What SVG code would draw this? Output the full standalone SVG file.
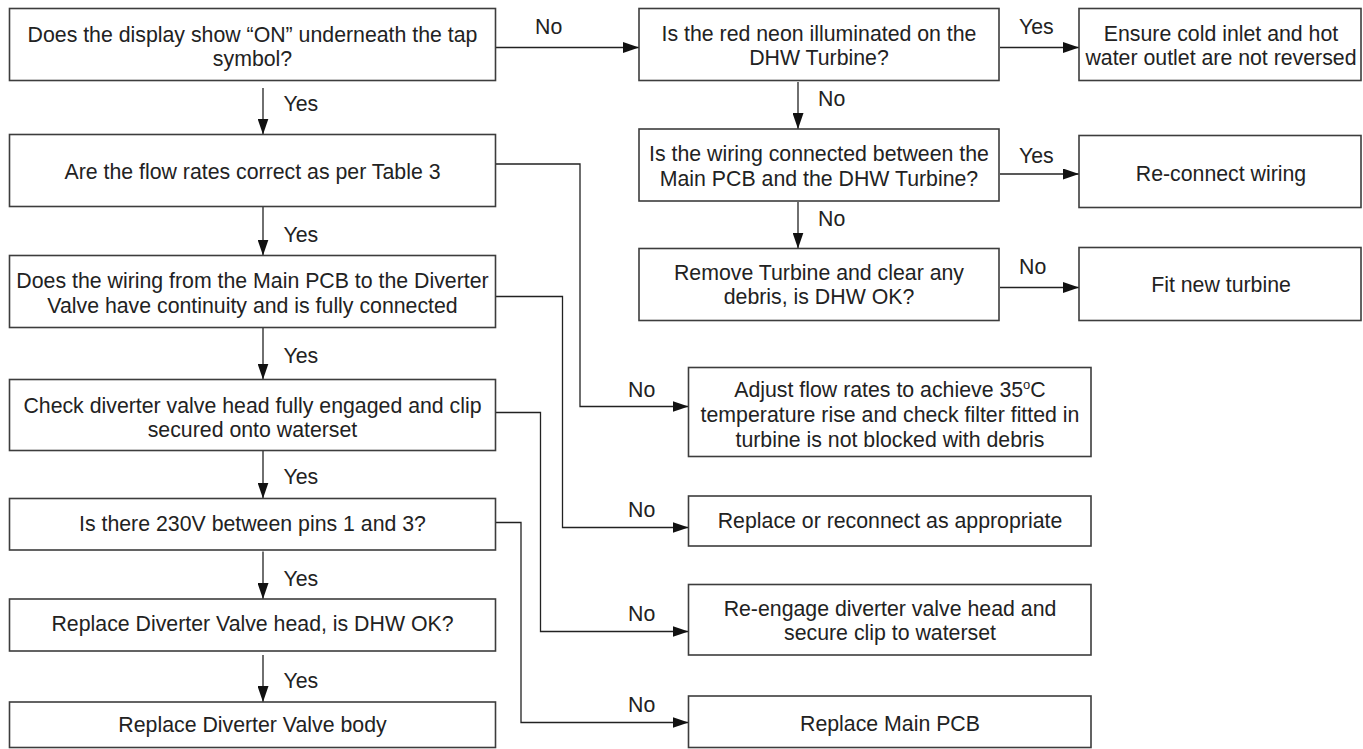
<svg xmlns="http://www.w3.org/2000/svg" width="1363" height="749" viewBox="0 0 1363 749">
<style>
.box{fill:#fff;stroke:#3d3d3d;stroke-width:1.6}
.t{font-family:"Liberation Sans",Arial,Helvetica,sans-serif;font-size:21.3px;fill:#222;text-anchor:middle}
.l{font-family:"Liberation Sans",Arial,Helvetica,sans-serif;font-size:21.3px;fill:#222;text-anchor:start}
.c{fill:none;stroke:#222;stroke-width:1.3}
</style>
<defs>
<marker id="ah" markerUnits="userSpaceOnUse" markerWidth="16" markerHeight="11" refX="16" refY="5.5" orient="auto">
<path d="M0,0 L16,5.5 L0,11 z" fill="#111"/>
</marker>
</defs>
<rect x="0" y="0" width="1363" height="749" fill="#fff"/>

<g id="connectors">
<path class="c" d="M495.5,47.5 H639" marker-end="url(#ah)"/>
<path class="c" d="M263,88 V134.5" marker-end="url(#ah)"/>
<path class="c" d="M263,207 V255.5" marker-end="url(#ah)"/>
<path class="c" d="M263,328 V379.5" marker-end="url(#ah)"/>
<path class="c" d="M263,451 V498.5" marker-end="url(#ah)"/>
<path class="c" d="M263,551.5 V599" marker-end="url(#ah)"/>
<path class="c" d="M263,655 V702" marker-end="url(#ah)"/>
<path class="c" d="M495.5,164 H580 V406.5 H688.5" marker-end="url(#ah)"/>
<path class="c" d="M495.5,296.5 H562.5 V527.5 H688.5" marker-end="url(#ah)"/>
<path class="c" d="M495.5,412.5 H540.5 V631.5 H688.5" marker-end="url(#ah)"/>
<path class="c" d="M495.5,522.5 H521 V722.5 H688.5" marker-end="url(#ah)"/>
<path class="c" d="M798,82 V129" marker-end="url(#ah)"/>
<path class="c" d="M798,202 V248.5" marker-end="url(#ah)"/>
<path class="c" d="M1000,47.5 H1079" marker-end="url(#ah)"/>
<path class="c" d="M1000,174 H1079" marker-end="url(#ah)"/>
<path class="c" d="M1000,287.5 H1079" marker-end="url(#ah)"/>
<text class="l" x="535" y="34">No</text>
<text class="l" x="283.5" y="111">Yes</text>
<text class="l" x="283.5" y="242">Yes</text>
<text class="l" x="283.5" y="363">Yes</text>
<text class="l" x="283.5" y="484">Yes</text>
<text class="l" x="283.5" y="586">Yes</text>
<text class="l" x="283.5" y="688">Yes</text>
<text class="l" x="628" y="397">No</text>
<text class="l" x="628" y="516.5">No</text>
<text class="l" x="628" y="620.5">No</text>
<text class="l" x="628" y="712">No</text>
<text class="l" x="818" y="106">No</text>
<text class="l" x="818" y="226">No</text>
<text class="l" x="1019" y="33.5">Yes</text>
<text class="l" x="1019" y="162.5">Yes</text>
<text class="l" x="1019" y="274">No</text>
</g>

<g id="b1"><rect class="box" x="9.5" y="8.5" width="486" height="72"/>
<text class="t" x="252.5" y="41.5">Does the display show “ON” underneath the tap</text>
<text class="t" x="252.5" y="66">symbol?</text></g>
<g id="b2"><rect class="box" x="9.5" y="134.5" width="486" height="72"/>
<text class="t" x="252.5" y="178.5">Are the flow rates correct as per Table 3</text></g>
<g id="b3"><rect class="box" x="9.5" y="255.5" width="486" height="72"/>
<text class="t" x="252.5" y="288">Does the wiring from the Main PCB to the Diverter</text>
<text class="t" x="252.5" y="312.5">Valve have continuity and is fully connected</text></g>
<g id="b4"><rect class="box" x="9.5" y="379.5" width="486" height="71"/>
<text class="t" x="252.5" y="412.5">Check diverter valve head fully engaged and clip</text>
<text class="t" x="252.5" y="437">secured onto waterset</text></g>
<g id="b5"><rect class="box" x="9.5" y="498.5" width="486" height="51.5"/>
<text class="t" x="252.5" y="531">Is there 230V between pins 1 and 3?</text></g>
<g id="b6"><rect class="box" x="9.5" y="599" width="486" height="52"/>
<text class="t" x="252.5" y="631">Replace Diverter Valve head, is DHW OK?</text></g>
<g id="b7"><rect class="box" x="9.5" y="702" width="486" height="45.5"/>
<text class="t" x="252.5" y="732">Replace Diverter Valve body</text></g>

<g id="r1"><rect class="box" x="639" y="8.5" width="360" height="72"/>
<text class="t" x="819" y="40.5">Is the red neon illuminated on the</text>
<text class="t" x="819" y="65">DHW Turbine?</text></g>
<g id="r1b"><rect class="box" x="1079" y="8.5" width="282" height="72"/>
<text class="t" x="1221" y="40.5">Ensure cold inlet and hot</text>
<text class="t" x="1221" y="64.5">water outlet are not reversed</text></g>
<g id="r2"><rect class="box" x="639" y="129" width="360" height="72"/>
<text class="t" x="819" y="160.5">Is the wiring connected between the</text>
<text class="t" x="819" y="185.5">Main PCB and the DHW Turbine?</text></g>
<g id="r2b"><rect class="box" x="1079" y="135.5" width="282" height="72"/>
<text class="t" x="1221" y="180.5">Re-connect wiring</text></g>
<g id="r3"><rect class="box" x="639" y="248.5" width="360" height="72"/>
<text class="t" x="819" y="279.5">Remove Turbine and clear any</text>
<text class="t" x="819" y="304">debris, is DHW OK?</text></g>
<g id="r3b"><rect class="box" x="1079" y="247.5" width="282" height="73"/>
<text class="t" x="1221" y="292">Fit new turbine</text></g>

<g id="m1"><rect class="box" x="688.5" y="367.5" width="402.5" height="89"/>
<text class="t" x="890" y="397">Adjust flow rates to achieve 35<tspan font-size="13" dy="-8">o</tspan><tspan dy="8">C</tspan></text>
<text class="t" x="890" y="422">temperature rise and check filter fitted in</text>
<text class="t" x="890" y="447">turbine is not blocked with debris</text></g>
<g id="m2"><rect class="box" x="688.5" y="496" width="402.5" height="50"/>
<text class="t" x="890" y="528">Replace or reconnect as appropriate</text></g>
<g id="m3"><rect class="box" x="688.5" y="584.5" width="402.5" height="70.5"/>
<text class="t" x="890" y="615.5">Re-engage diverter valve head and</text>
<text class="t" x="890" y="640">secure clip to waterset</text></g>
<g id="m4"><rect class="box" x="688.5" y="696" width="402.5" height="51.5"/>
<text class="t" x="890" y="731">Replace Main PCB</text></g>
</svg>
